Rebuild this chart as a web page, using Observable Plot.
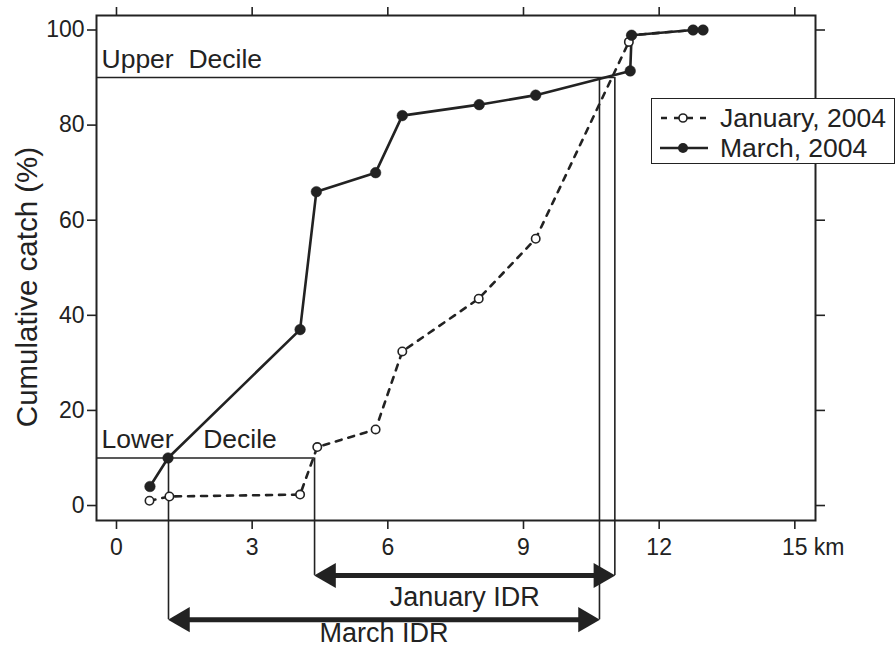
<!DOCTYPE html>
<html>
<head>
<meta charset="utf-8">
<script src="https://cdn.jsdelivr.net/npm/d3@7"></script>
<script src="https://cdn.jsdelivr.net/npm/@observablehq/plot@0.6"></script>
<style>
  html, body { margin: 0; padding: 0; background: #fff; }
  #chart { position: relative; width: 896px; height: 648px; font-family: "Liberation Sans", Arial, Helvetica, sans-serif; }
  #chart svg text { white-space: pre; }
  #legend { position: absolute; left: 651px; top: 98px; width: 242px; height: 64px; border: 1.5px solid #222; background: #fff; font-size: 26.5px; color: #222; }
  #legend .row { position: absolute; left: 0; height: 30px; display: flex; align-items: center; }
  #legend svg { margin-left: 8px; margin-right: 12px; }
</style>
</head>
<body>
<div id="chart"></div>
<script>
// ---- data ----
const januaryKm  = [0.73, 1.17, 4.06, 4.44, 5.73, 6.32, 8.01, 9.27, 11.33, 11.39, 12.75, 12.97];
const januaryPct = [1.0, 1.9, 2.3, 12.3, 16.0, 32.4, 43.5, 56.1, 97.5, 98.9, 100, 100];
const marchKm    = [0.74, 1.14, 4.06, 4.42, 5.73, 6.32, 8.02, 9.27, 11.36, 11.39, 12.75, 12.97];
const marchPct   = [4.0, 10.0, 37.0, 66.0, 70.0, 82.0, 84.3, 86.3, 91.4, 98.9, 100, 100];
const xTicks = [0, 3, 6, 9, 12, 15];
const yTicks = [0, 20, 40, 60, 80, 100];
const deciles = [10, 90];
const decileNames = ["Lower    Decile", "Upper  Decile"];
const idrNames = ["January IDR", "March IDR"];
const idrLow  = [4.38, 1.15];
const idrHigh = [11.02, 10.68];
const seriesNames = ["January, 2004", "March, 2004"];
const xUnit = "km";
const yTitle = "Cumulative catch (%)";

// ---- tables ----
const jan = januaryKm.map((x, i) => ({x, y: januaryPct[i]}));
const mar = marchKm.map((x, i) => ({x, y: marchPct[i]}));
const arrowLevel = [-14.7, -24.0];   // below the frame, in y units
const labelLevel = [-19.4, -26.9];
const idr = idrNames.map((name, i) => ({name, lo: idrLow[i], hi: idrHigh[i], level: arrowLevel[i], label: labelLevel[i]}));
const verticals = idr.flatMap(d => [
  {x: d.lo, y1: deciles[0], y2: d.level},
  {x: d.hi, y1: deciles[1], y2: d.level}
]);
const decileRows = deciles.map((v, i) => ({v, name: decileNames[i], end: i === 0 ? idrLow[0] : idrHigh[0]}));
const ink = "#222";

const plot = Plot.plot({
  width: 896,
  height: 648,
  marginLeft: 96,
  marginRight: 81,
  marginTop: 15,
  marginBottom: 128,
  style: {fontFamily: "Liberation Sans, Arial, Helvetica, sans-serif", fontSize: "23px", color: ink, background: "white"},
  x: {domain: [-0.442, 15.457]},
  y: {domain: [-3.15, 103.05]},
  marks: [
    Plot.axisX({anchor: "bottom", ticks: xTicks, tickSize: 9, tickPadding: 9, label: null, fontSize: 23, strokeWidth: 1.6}),
    Plot.axisX({anchor: "top", ticks: xTicks, tickSize: 9, tickFormat: () => "", label: null, strokeWidth: 1.6}),
    Plot.axisY({anchor: "left", ticks: yTicks, tickSize: 9, tickPadding: 3, label: null, fontSize: 23, strokeWidth: 1.6}),
    Plot.axisY({anchor: "right", ticks: yTicks, tickSize: 9, tickFormat: () => "", label: null, strokeWidth: 1.6}),
    Plot.text([xUnit], {x: xTicks[xTicks.length - 1], frameAnchor: "bottom", dx: 19, dy: 18, textAnchor: "start", lineAnchor: "top", fontSize: 23, fill: ink}),
    Plot.text([yTitle], {frameAnchor: "left", textAnchor: "middle", rotate: -90, dx: -69, dy: 19, fontSize: 29.5, fill: ink}),
    // decile lines and verticals
    Plot.ruleY(decileRows, {y: "v", x1: -0.442, x2: "end", stroke: ink, strokeWidth: 1.6}),
    Plot.ruleX(verticals, {x: "x", y1: "y1", y2: "y2", stroke: ink, strokeWidth: 1.6, clip: false}),
    Plot.text(decileRows, {y: "v", text: "name", frameAnchor: "left", dx: 5, dy: -10, textAnchor: "start", lineAnchor: "bottom", fontSize: 26.5, fill: ink}),
    // series
    Plot.line(jan, {x: "x", y: "y", stroke: ink, strokeWidth: 2.6, strokeDasharray: "6,7"}),
    Plot.line(mar, {x: "x", y: "y", stroke: ink, strokeWidth: 2.6}),
    Plot.dot(jan, {x: "x", y: "y", r: 4.2, fill: "white", stroke: ink, strokeWidth: 1.6}),
    Plot.dot(mar, {x: "x", y: "y", r: 5.3, fill: ink, stroke: ink, strokeWidth: 0.5}),
    // IDR arrows
    Plot.ruleY(idr, {y: "level", x1: "lo", x2: "hi", stroke: ink, strokeWidth: 5, insetLeft: 8, insetRight: 8}),
    Plot.dot(idr, {x: "hi", y: "level", symbol: "triangle", rotate: 90, r: 9.3, fill: ink, stroke: "none", dx: -14}),
    Plot.dot(idr, {x: "lo", y: "level", symbol: "triangle", rotate: -90, r: 9.3, fill: ink, stroke: "none", dx: 14}),
    Plot.text(idr, {x: d => (d.lo + d.hi) / 2, y: "label", text: "name", fontSize: 27, fill: ink}),
    Plot.frame({stroke: ink, strokeWidth: 2})
  ]
});

const chart = document.getElementById("chart");
chart.appendChild(plot);

// legend
const legend = document.createElement("div");
legend.id = "legend";
seriesNames.forEach((name, i) => {
  const row = document.createElement("div");
  row.className = "row";
  row.style.top = (i === 0 ? 4 : 34) + "px";
  const dashed = i === 0;
  row.innerHTML =
    `<svg width="48" height="16" viewBox="0 0 48 16">
       <line x1="0" y1="8" x2="48" y2="8" stroke="${ink}" stroke-width="2.6" ${dashed ? 'stroke-dasharray="6,7" stroke-dashoffset="-1"' : ''}/>
       ${dashed
         ? `<circle cx="23" cy="8" r="4" fill="white" stroke="${ink}" stroke-width="1.6"/>`
         : `<circle cx="23" cy="8" r="5" fill="${ink}"/>`}
     </svg><span>${name}</span>`;
  legend.appendChild(row);
});
chart.appendChild(legend);
</script>
</body>
</html>
